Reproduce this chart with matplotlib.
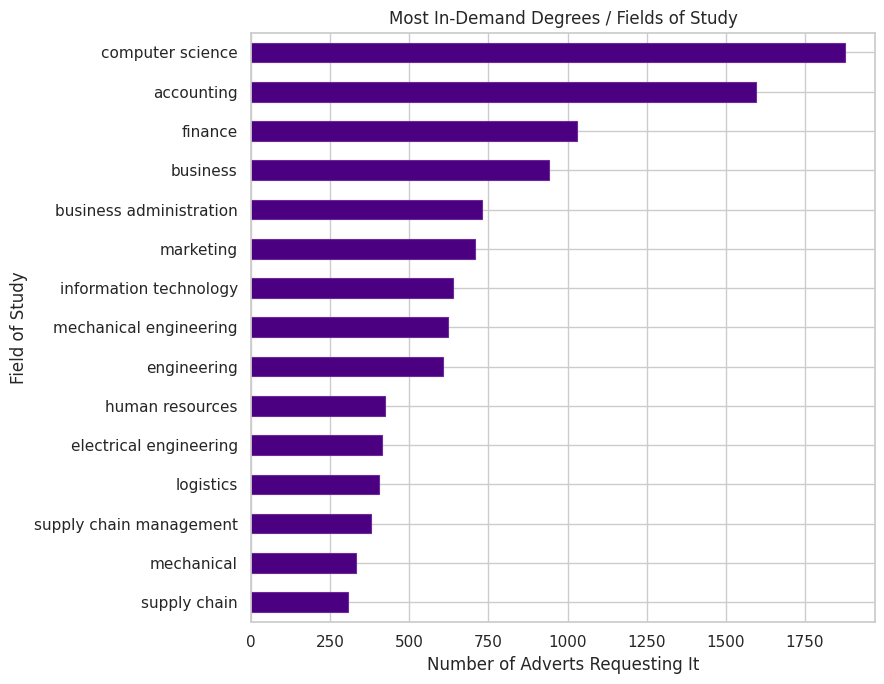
import matplotlib
matplotlib.use('Agg')
import matplotlib.pyplot as plt
import seaborn as sns
import pandas as pd

fields = ['computer science', 'accounting', 'finance', 'business',
          'business administration', 'marketing', 'information technology',
          'mechanical engineering', 'engineering', 'human resources',
          'electrical engineering', 'logistics', 'supply chain management',
          'mechanical', 'supply chain']
counts = [1878, 1596, 1030, 941, 731, 709, 637, 621, 608, 424, 414, 405, 379, 332, 306]

sns.set_theme(style='whitegrid')
plt.rcParams['font.family'] = ['DejaVu Sans']

s = pd.Series(counts, index=fields).sort_values()

fig, ax = plt.subplots(figsize=(8.84, 6.84), dpi=100)
s.plot(kind='barh', color='indigo', edgecolor='#6a2a9a', linewidth=0.8, ax=ax)
ax.set_title('Most In-Demand Degrees / Fields of Study')
ax.set_xlabel('Number of Adverts Requesting It')
ax.set_ylabel('Field of Study')
fig.subplots_adjust(left=0.284, right=0.990, top=0.952, bottom=0.091)
plt.savefig('out.png', dpi=100)
